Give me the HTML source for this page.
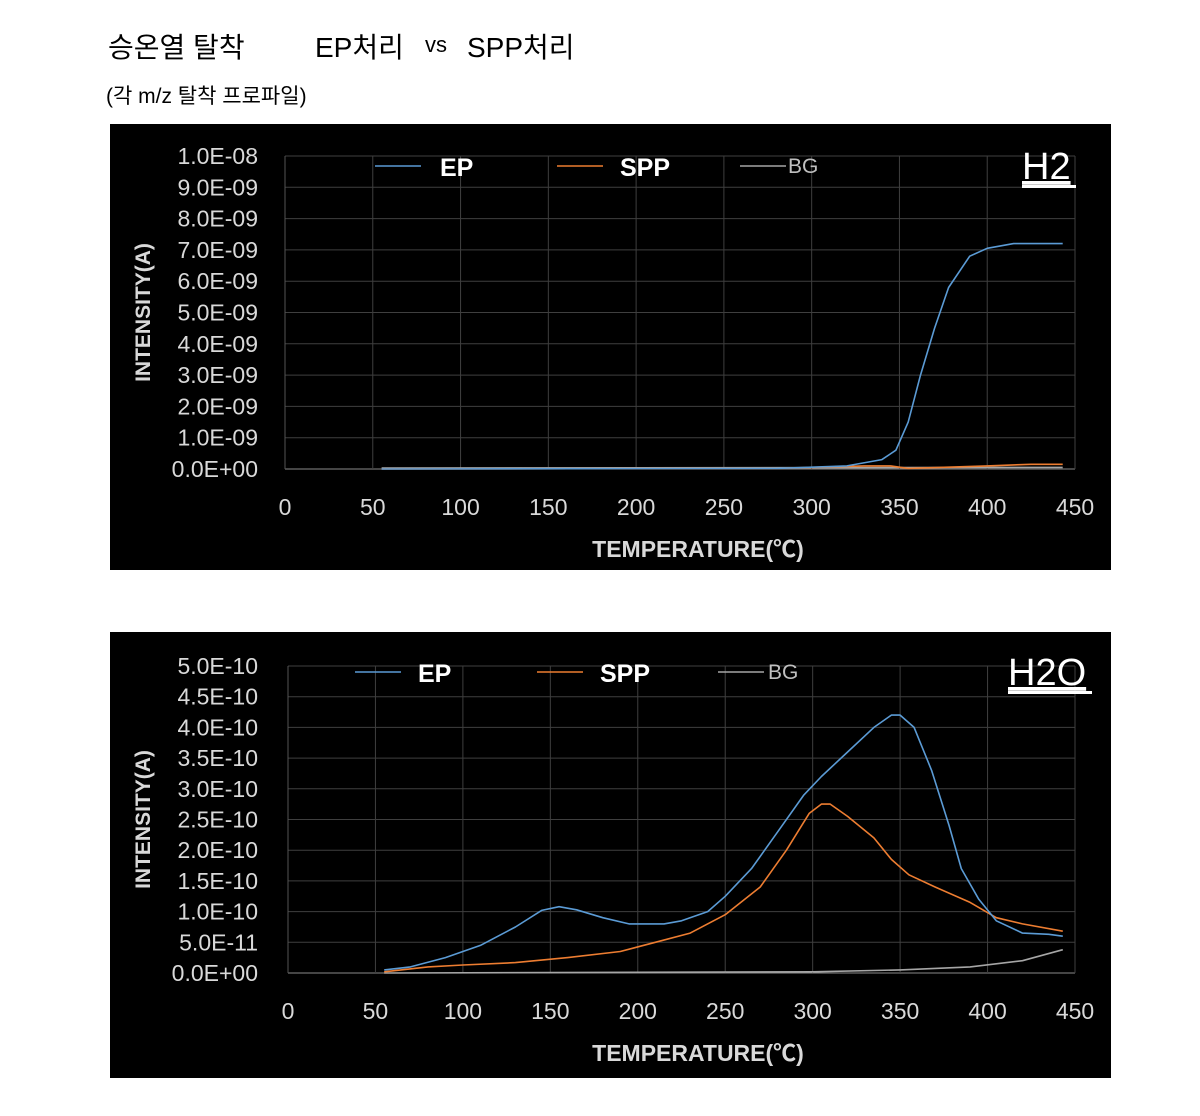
<!DOCTYPE html>
<html><head><meta charset="utf-8"><style>
body{margin:0;width:1200px;height:1116px;background:#fff;position:relative;overflow:hidden;font-family:"Liberation Sans","Noto Sans CJK KR",sans-serif}
.t{position:absolute;color:#000;white-space:nowrap}
svg{position:absolute;left:0;top:0}
</style></head><body>
<div class="t" style="left:108px;top:26px;font-size:28px">승온열 탈착</div>
<div class="t" style="left:315px;top:26px;font-size:28px">EP처리</div>
<div class="t" style="left:425px;top:32px;font-size:22px">vs</div>
<div class="t" style="left:467px;top:26px;font-size:28px">SPP처리</div>
<div class="t" style="left:106px;top:80px;font-size:21px">(각 m/z 탈착 프로파일)</div>
<svg id="s" width="1200" height="1116"></svg>
<script>
// Chart 1 (H2) data, unit 1e-9 A
const h2X=[55,280,320,340,348,355,362,370,378,390,400,415,443];
const h2EP=[0,0.02,0.1,0.3,0.6,1.5,3.0,4.5,5.8,6.8,7.05,7.2,7.2];
const h2SX=[55,280,330,345,355,400,425,443];
const h2SPP=[0,0.02,0.1,0.1,0.02,0.1,0.15,0.15];
const h2BX=[55,443];
const h2BG=[0.03,0.05];
const h2Ticks=["0.0E+00","1.0E-09","2.0E-09","3.0E-09","4.0E-09","5.0E-09","6.0E-09","7.0E-09","8.0E-09","9.0E-09","1.0E-08"];
// Chart 2 (H2O) data, unit 1e-10 A
const wEX=[55,70,90,110,130,145,155,165,180,195,215,225,240,250,265,280,295,305,320,335,345,350,358,368,378,385,395,405,420,435,443];
const wEP=[0.05,0.1,0.25,0.45,0.75,1.02,1.08,1.03,0.9,0.8,0.8,0.85,1.0,1.25,1.7,2.3,2.9,3.2,3.6,4.0,4.2,4.2,4.0,3.3,2.4,1.7,1.2,0.85,0.65,0.63,0.6];
const wSX=[55,80,100,130,160,190,210,230,250,270,285,298,305,310,320,335,345,355,370,390,405,420,443];
const wSPP=[0.02,0.1,0.13,0.17,0.25,0.35,0.5,0.65,0.95,1.4,2.0,2.6,2.75,2.75,2.55,2.2,1.85,1.6,1.4,1.15,0.9,0.8,0.68];
const wBX=[55,300,350,390,420,443];
const wBG=[0,0.02,0.05,0.1,0.2,0.38];
const wTicks=["0.0E+00","5.0E-11","1.0E-10","1.5E-10","2.0E-10","2.5E-10","3.0E-10","3.5E-10","4.0E-10","4.5E-10","5.0E-10"];
const xTicks=[0,50,100,150,200,250,300,350,400,450];

const S=document.getElementById('s');const NS='http://www.w3.org/2000/svg';
function mk(t,a,p){const e=document.createElementNS(NS,t);for(const k in a)e.setAttribute(k,a[k]);(p||S).appendChild(e);return e;}
function chart(o){
 const g=mk('g',{});
 
 
 const bg=mk('rect',{x:110,y:o.top,width:1001,height:446,fill:'#000'},g);
 
 
 const L=o.left,R=1075,B=o.bottom,T=o.topPlot;
 const xs=v=>L+(v/450)*(R-L);
 const ys=v=>B-(v/o.ymax)*(B-T);
 o.ticks.forEach((t,i)=>{const v=i*o.ymax/10;const y=ys(v);
  const gl=mk('line',{x1:L,x2:R,y1:y,y2:y,stroke:i==0?'#8a8a8a':'#3f3f3f','stroke-width':1},g);
  
  
  const tx=mk('text',{x:258,y:y+8,'text-anchor':'end',fill:'#d9d9d9','font-size':23,'font-family':'Liberation Sans Narrow, Liberation Sans, sans-serif'},g);tx.textContent=t;
  
  });
 xTicks.forEach(v=>{const x=xs(v);
  if(v>0){const gl=mk('line',{x1:x,x2:x,y1:T,y2:B,stroke:'#3f3f3f','stroke-width':1},g);
  
  }
  const tx=mk('text',{x:x,y:o.xlab,'text-anchor':'middle',fill:'#d9d9d9','font-size':23},g);tx.textContent=v;
  
  });
 const ax=mk('line',{x1:L,x2:L,y1:T,y2:B,stroke:'#555'},g);
 
 
 const xt=mk('text',{x:698,y:o.xlab+42,'text-anchor':'middle',fill:'#d9d9d9','font-size':23,'font-weight':'bold'},g);xt.textContent='TEMPERATURE(℃)';
 
 
 const cy=(T+B)/2;
 const yt=mk('text',{x:150,y:cy,'text-anchor':'middle',fill:'#d9d9d9','font-size':21,'font-weight':'bold',transform:`rotate(-90 150 ${cy})`},g);yt.textContent='INTENSITY(A)';
 
 
 o.series.forEach(s=>{const d=s.x.map((v,i)=>(i?'L':'M')+xs(v).toFixed(1)+','+ys(s.y[i]).toFixed(1)).join(' ');
  const p=mk('path',{d:d,fill:'none',stroke:s.c,'stroke-width':1.6,'stroke-linejoin':'round'},g);
  
  });
 o.legend.forEach(l=>{const ln=mk('line',{x1:l.x,x2:l.x+46,y1:o.ly,y2:o.ly,stroke:l.c,'stroke-width':1.6},g);
  
  
  const tx=mk('text',{x:l.tx,y:o.ly+(l.b?10:7),fill:l.b?'#fff':'#bfbfbf','font-size':l.b?25:21,'font-weight':l.b?'bold':'normal'},g);tx.textContent=l.t;
  
  });
 const lb=mk('text',{x:o.lbx,y:o.ly+13,fill:'#fff','font-size':38,'text-decoration':'underline'},g);lb.textContent=o.label;
 
 
 const ul=mk('rect',{x:o.lbx,y:o.ly+19,width:o.lbw,height:3,fill:'#fff'},g);
 
 
}
chart({name:'h2-chart',top:124,left:285,bottom:469,topPlot:156,ymax:10,xlab:515,ticks:h2Ticks,ly:166,label:'H2',lbx:1022,lbw:54,
 series:[{n:'bg',x:h2BX,y:h2BG,c:'#a6a6a6'},{n:'spp',x:h2SX,y:h2SPP,c:'#ed7d31'},{n:'ep',x:h2X,y:h2EP,c:'#5b9bd5'}],
 legend:[{x:375,tx:440,t:'EP',c:'#5b9bd5',b:1},{x:557,tx:620,t:'SPP',c:'#ed7d31',b:1},{x:740,tx:788,t:'BG',c:'#a6a6a6',b:0}]});
chart({name:'h2o-chart',top:632,left:288,bottom:973,topPlot:666,ymax:5,xlab:1019,ticks:wTicks,ly:672,label:'H2O',lbx:1008,lbw:84,
 series:[{n:'bg',x:wBX,y:wBG,c:'#a6a6a6'},{n:'spp',x:wSX,y:wSPP,c:'#ed7d31'},{n:'ep',x:wEX,y:wEP,c:'#5b9bd5'}],
 legend:[{x:355,tx:418,t:'EP',c:'#5b9bd5',b:1},{x:537,tx:600,t:'SPP',c:'#ed7d31',b:1},{x:718,tx:768,t:'BG',c:'#a6a6a6',b:0}]});
</script>
</body></html>
